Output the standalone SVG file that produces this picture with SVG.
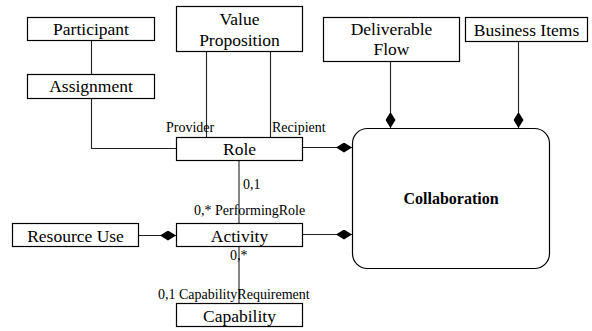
<svg xmlns="http://www.w3.org/2000/svg" width="592" height="331" viewBox="0 0 592 331">
  <style>
    text { font-family: "Liberation Serif", "Times New Roman", serif; fill: #000; }
    .box { fill: #fff; stroke: #000; stroke-width: 1.2; }
    .lbl { font-size: 17.5px; text-anchor: middle; }
    .role { font-size: 14px; }
    .title { font-size: 16px; font-weight: bold; text-anchor: middle; }
    .conn { fill: none; stroke: #222; stroke-width: 1.1; }
  </style>
  <defs>
    <marker id="diamond" viewBox="0 -5 16 10" refX="16" refY="0" markerWidth="16" markerHeight="10" markerUnits="userSpaceOnUse" orient="auto">
      <path d="M0,0 L8,-5 L16,0 L8,5 Z" fill="#000"/>
    </marker>
  </defs>
  <rect width="592" height="331" fill="#fff"/>

  <g id="connectors">
    <path class="conn" d="M91.5,40 V74"/>
    <path class="conn" d="M91.5,98 V148.5 H176"/>
    <path class="conn" d="M206.5,52 V137"/>
    <path class="conn" d="M270.5,52 V137"/>
    <path class="conn" d="M303,147.5 H352" marker-end="url(#diamond)"/>
    <path class="conn" d="M390.5,62 V128" marker-end="url(#diamond)"/>
    <path class="conn" d="M518.5,42 V128" marker-end="url(#diamond)"/>
    <path class="conn" d="M239,160 V223"/>
    <path class="conn" d="M303,234.5 H352" marker-end="url(#diamond)"/>
    <path class="conn" d="M138,235.5 H176" marker-end="url(#diamond)"/>
    <path class="conn" d="M239,247 V303"/>
    <text class="role" x="166" y="131.5">Provider</text>
    <text class="role" x="272" y="131.5">Recipient</text>
    <text class="role" x="243" y="189">0,1</text>
    <text class="role" x="194" y="215">0,* PerformingRole</text>
    <text class="role" x="230" y="260">0,*</text>
    <text class="role" x="158" y="299">0,1 CapabilityRequirement</text>
  </g>

  <g id="participant">
    <rect class="box" x="27.5" y="17.5" width="127" height="23"/>
    <text class="lbl" x="91" y="34.5">Participant</text>
  </g>
  <g id="assignment">
    <rect class="box" x="27.5" y="74.5" width="127" height="24"/>
    <text class="lbl" x="91" y="91.5">Assignment</text>
  </g>
  <g id="value-proposition">
    <rect class="box" x="176.5" y="6.5" width="126" height="45"/>
    <text class="lbl" x="239.5" y="25">Value</text>
    <text class="lbl" x="239.5" y="45.5">Proposition</text>
  </g>
  <g id="deliverable-flow">
    <rect class="box" x="323.5" y="17.5" width="136" height="44"/>
    <text class="lbl" x="391.5" y="35">Deliverable</text>
    <text class="lbl" x="391.5" y="55">Flow</text>
  </g>
  <g id="business-items">
    <rect class="box" x="465.5" y="17.5" width="122" height="24"/>
    <text class="lbl" x="526.5" y="35.5">Business Items</text>
  </g>
  <g id="role">
    <rect class="box" x="176.5" y="137.5" width="126" height="23"/>
    <text class="lbl" x="239.5" y="155">Role</text>
  </g>
  <g id="collaboration">
    <rect class="box" x="352.5" y="128.5" width="197" height="140" rx="15" ry="15"/>
    <text class="title" x="451" y="204">Collaboration</text>
  </g>
  <g id="resource-use">
    <rect class="box" x="12.5" y="223.5" width="126" height="23"/>
    <text class="lbl" x="75.5" y="241.5">Resource Use</text>
  </g>
  <g id="activity">
    <rect class="box" x="176.5" y="223.5" width="126" height="23"/>
    <text class="lbl" x="239.5" y="241.5">Activity</text>
  </g>
  <g id="capability">
    <rect class="box" x="176.5" y="303.5" width="126" height="23"/>
    <text class="lbl" x="239.5" y="321.5">Capability</text>
  </g>
</svg>
